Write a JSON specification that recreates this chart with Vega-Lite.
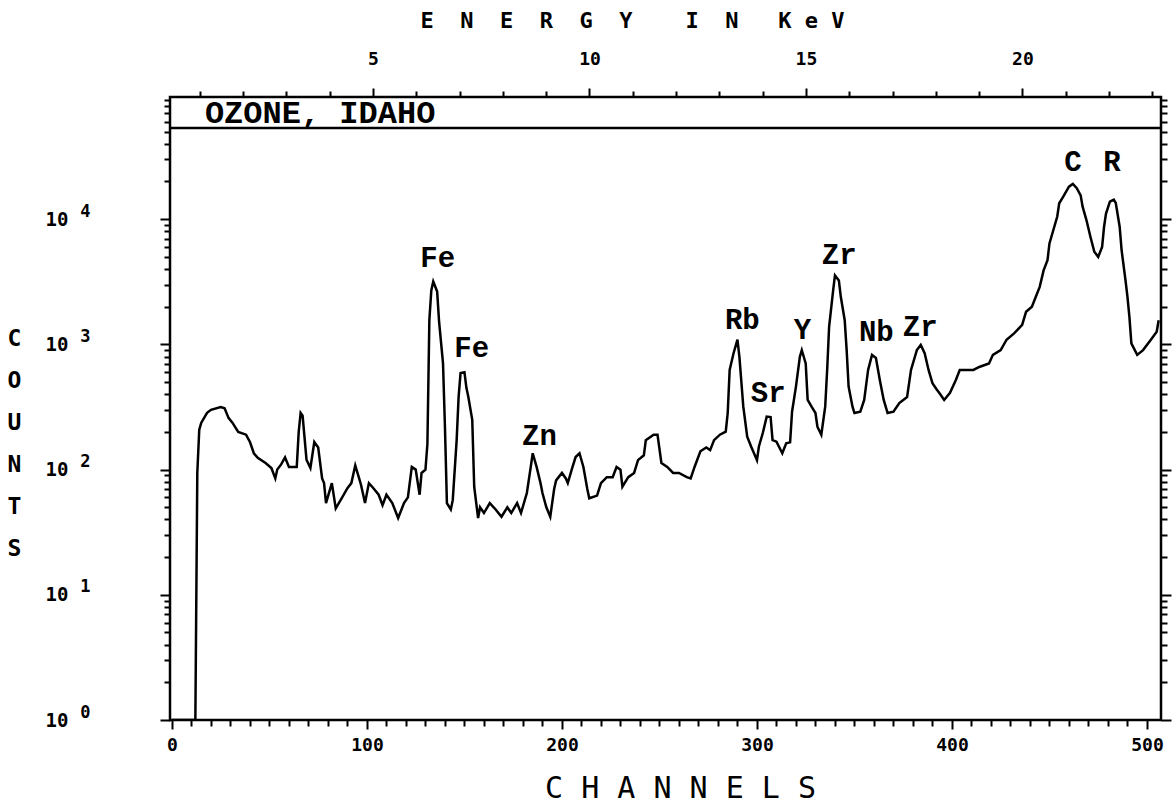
{
  "$schema": "https://vega.github.io/schema/vega-lite/v6.json",
  "width": 991,
  "height": 623,
  "autosize": {"type": "none"},
  "padding": {"left": 170, "top": 97, "right": 13, "bottom": 85},
  "background": "white",
  "config": {
    "view": {"stroke": "black", "strokeWidth": 2.5},
    "axis": {"domain": false, "grid": false, "tickColor": "black", "tickWidth": 2, "labelColor": "black", "titleColor": "black", "labelFont": "DejaVu Sans Mono", "labelFontWeight": "bold", "labelFontSize": 18, "labelOverlap": false, "labelFlush": false}
  },
  "datasets": {
    "spectrum": [
      {"ch":0,"n":1},{"ch":12,"n":1},{"ch":13,"n":94},{"ch":14,"n":208},{"ch":15,"n":236},{"ch":18,"n":284},{"ch":20,"n":300},{"ch":25,"n":316},{"ch":27,"n":309},{"ch":29,"n":259},{"ch":31,"n":237},{"ch":34,"n":200},{"ch":38,"n":190},{"ch":40,"n":166},{"ch":42,"n":135},{"ch":44,"n":124},{"ch":48,"n":113},{"ch":51,"n":103},{"ch":53,"n":85},{"ch":54,"n":100},{"ch":56,"n":110},{"ch":58,"n":125},{"ch":60,"n":105},{"ch":64,"n":105},{"ch":65,"n":200},{"ch":66,"n":284},{"ch":67,"n":270},{"ch":69,"n":120},{"ch":71,"n":103},{"ch":73,"n":166},{"ch":75,"n":150},{"ch":77,"n":85},{"ch":78,"n":78},{"ch":79,"n":54},{"ch":82,"n":78},{"ch":84,"n":49},{"ch":87,"n":59},{"ch":90,"n":71},{"ch":92,"n":78},{"ch":94,"n":108},{"ch":96,"n":85},{"ch":97,"n":75},{"ch":99,"n":54},{"ch":101,"n":78},{"ch":103,"n":72},{"ch":106,"n":63},{"ch":108,"n":52},{"ch":110,"n":63},{"ch":113,"n":54},{"ch":116,"n":41},{"ch":119,"n":54},{"ch":121,"n":60},{"ch":123,"n":105},{"ch":125,"n":100},{"ch":127,"n":63},{"ch":128,"n":94},{"ch":130,"n":100},{"ch":131,"n":160},{"ch":132,"n":1560},{"ch":133,"n":2700},{"ch":134,"n":3180},{"ch":135,"n":2900},{"ch":136,"n":2640},{"ch":137,"n":1510},{"ch":139,"n":710},{"ch":140,"n":219},{"ch":141,"n":54},{"ch":143,"n":48},{"ch":144,"n":57},{"ch":146,"n":172},{"ch":147,"n":380},{"ch":148,"n":590},{"ch":150,"n":600},{"ch":151,"n":450},{"ch":152,"n":380},{"ch":154,"n":250},{"ch":155,"n":73},{"ch":157,"n":41},{"ch":158,"n":50},{"ch":160,"n":45},{"ch":163,"n":54},{"ch":166,"n":48},{"ch":169,"n":42},{"ch":172,"n":50},{"ch":174,"n":45},{"ch":177,"n":54},{"ch":179,"n":45},{"ch":182,"n":65},{"ch":184,"n":105},{"ch":185,"n":135},{"ch":187,"n":105},{"ch":189,"n":78},{"ch":190,"n":65},{"ch":192,"n":50},{"ch":194,"n":42},{"ch":196,"n":70},{"ch":197,"n":82},{"ch":200,"n":94},{"ch":202,"n":85},{"ch":203,"n":78},{"ch":205,"n":100},{"ch":207,"n":126},{"ch":209,"n":135},{"ch":211,"n":105},{"ch":213,"n":70},{"ch":214,"n":59},{"ch":218,"n":62},{"ch":220,"n":78},{"ch":223,"n":87},{"ch":226,"n":87},{"ch":228,"n":105},{"ch":230,"n":100},{"ch":231,"n":73},{"ch":234,"n":87},{"ch":237,"n":94},{"ch":239,"n":119},{"ch":242,"n":130},{"ch":243,"n":172},{"ch":247,"n":190},{"ch":249,"n":190},{"ch":251,"n":113},{"ch":254,"n":105},{"ch":257,"n":94},{"ch":260,"n":94},{"ch":264,"n":87},{"ch":266,"n":85},{"ch":268,"n":105},{"ch":271,"n":140},{"ch":274,"n":150},{"ch":276,"n":143},{"ch":278,"n":172},{"ch":281,"n":190},{"ch":284,"n":201},{"ch":285,"n":283},{"ch":286,"n":625},{"ch":288,"n":850},{"ch":290,"n":1090},{"ch":291,"n":795},{"ch":293,"n":318},{"ch":295,"n":183},{"ch":297,"n":153},{"ch":300,"n":119},{"ch":301,"n":153},{"ch":303,"n":196},{"ch":305,"n":265},{"ch":307,"n":263},{"ch":308,"n":172},{"ch":310,"n":167},{"ch":313,"n":135},{"ch":315,"n":162},{"ch":317,"n":165},{"ch":318,"n":290},{"ch":320,"n":460},{"ch":322,"n":795},{"ch":323,"n":900},{"ch":325,"n":705},{"ch":326,"n":360},{"ch":328,"n":318},{"ch":330,"n":283},{"ch":331,"n":220},{"ch":333,"n":190},{"ch":335,"n":318},{"ch":336,"n":625},{"ch":337,"n":1380},{"ch":339,"n":2640},{"ch":340,"n":3560},{"ch":342,"n":3240},{"ch":343,"n":2400},{"ch":345,"n":1560},{"ch":346,"n":900},{"ch":347,"n":460},{"ch":349,"n":318},{"ch":350,"n":283},{"ch":353,"n":290},{"ch":355,"n":360},{"ch":357,"n":625},{"ch":359,"n":825},{"ch":361,"n":780},{"ch":363,"n":520},{"ch":365,"n":360},{"ch":367,"n":283},{"ch":370,"n":290},{"ch":373,"n":340},{"ch":377,"n":380},{"ch":379,"n":625},{"ch":382,"n":900},{"ch":384,"n":990},{"ch":386,"n":850},{"ch":388,"n":625},{"ch":390,"n":490},{"ch":392,"n":440},{"ch":394,"n":400},{"ch":396,"n":360},{"ch":399,"n":410},{"ch":402,"n":520},{"ch":404,"n":625},{"ch":408,"n":625},{"ch":411,"n":625},{"ch":414,"n":660},{"ch":419,"n":705},{"ch":421,"n":825},{"ch":425,"n":900},{"ch":428,"n":1090},{"ch":432,"n":1230},{"ch":436,"n":1430},{"ch":438,"n":1820},{"ch":441,"n":2000},{"ch":443,"n":2400},{"ch":445,"n":2880},{"ch":447,"n":3900},{"ch":449,"n":4700},{"ch":450,"n":6400},{"ch":452,"n":8200},{"ch":454,"n":10500},{"ch":455,"n":13400},{"ch":457,"n":15100},{"ch":460,"n":18200},{"ch":462,"n":19100},{"ch":464,"n":17700},{"ch":466,"n":15500},{"ch":467,"n":12600},{"ch":469,"n":9800},{"ch":471,"n":7250},{"ch":473,"n":5500},{"ch":475,"n":5000},{"ch":477,"n":6000},{"ch":478,"n":8700},{"ch":479,"n":11100},{"ch":481,"n":13800},{"ch":483,"n":14300},{"ch":484,"n":13500},{"ch":486,"n":8700},{"ch":487,"n":5650},{"ch":489,"n":3250},{"ch":490,"n":2400},{"ch":491,"n":1660},{"ch":492,"n":1020},{"ch":495,"n":825},{"ch":498,"n":900},{"ch":502,"n":1090},{"ch":505,"n":1260},{"ch":506,"n":1560}
    ],
    "peaks": [
      {"ch":136.3,"n":4900,"label":"Fe"},
      {"ch":153.7,"n":936,"label":"Fe"},
      {"ch":188.5,"n":185,"label":"Zn"},
      {"ch":292.5,"n":1570,"label":"Rb"},
      {"ch":305.8,"n":409,"label":"Sr"},
      {"ch":323.3,"n":1300,"label":"Y"},
      {"ch":342.2,"n":5176,"label":"Zr"},
      {"ch":361.2,"n":1255,"label":"Nb"},
      {"ch":383.7,"n":1380,"label":"Zr"},
      {"ch":462.1,"n":28600,"label":"C"},
      {"ch":482.1,"n":28600,"label":"R"}
    ],
    "boxline": [{"n":53500}],
    "boxtext": [{"ch":16.9,"n":70500,"label":"OZONE, IDAHO"}],
    "energy": [{"e":1},{"e":23}]
  },
  "layer": [
    {
      "layer": [
        {
          "data": {"name": "spectrum"},
          "mark": {"type": "line", "color": "black", "strokeWidth": 2.5, "interpolate": "linear", "clip": true},
          "encoding": {
            "x": {
              "field": "ch", "type": "quantitative",
              "scale": {"domain": [-1, 507.2], "nice": false, "zero": false},
              "axis": {
                "orient": "bottom",
                "values": [0, 100, 200, 300, 400, 500],
                "format": "d",
                "labelOverlap": false,
                "labelBound": false,
                "tickSize": 9,
                "labelPadding": 7,
                "title": "C H A N N E L S",
                "titleFont": "DejaVu Sans Mono",
                "titleFontSize": 30,
                "titleFontWeight": "normal",
                "titleX": 510,
                "titleY": 68,
                "titleAlign": "center",
                "titleBaseline": "middle",
                "titleAnchor": null
              }
            },
            "y": {
              "field": "n", "type": "quantitative",
              "scale": {"type": "log", "domain": [1, 94600], "nice": false},
              "axis": {
                "orient": "left",
                "values": [1,2,3,4,5,6,7,8,9,10,20,30,40,50,60,70,80,90,100,200,300,400,500,600,700,800,900,1000,2000,3000,4000,5000,6000,7000,8000,9000,10000,20000,30000,40000,50000,60000,70000,80000,90000],
                "labelOverlap": false,
                "labelExpr": "indexof([1,10,100,1000,10000], datum.value) >= 0 ? '10' : ''",
                "tickSize": {"condition": {"test": "indexof([1,10,100,1000,10000], datum.value) >= 0", "value": 10}, "value": 6},
                "labelPadding": 92,
                "labelFontSize": 19,
                "title": ["C", "O", "U", "N", "T", "S"],
                "titleFont": "DejaVu Sans Mono",
                "titleFontWeight": "bold",
                "titleFontSize": 23,
                "titleAngle": 0,
                "titleLineHeight": 42,
                "titleX": -156,
                "titleY": 230,
                "titleAlign": "center",
                "titleBaseline": "top",
                "titleAnchor": null
              }
            }
          }
        },
        {
          "data": {"name": "peaks"},
          "mark": {"type": "text", "font": "Liberation Mono", "fontWeight": "bold", "fontSize": 29, "color": "black", "align": "center", "baseline": "middle"},
          "encoding": {
            "x": {
              "field": "ch", "type": "quantitative",
              "axis": {
                "orient": "bottom",
                "values": [10,20,30,40,50,60,70,80,90,110,120,130,140,150,160,170,180,190,210,220,230,240,250,260,270,280,290,310,320,330,340,350,360,370,380,390,410,420,430,440,450,460,470,480,490],
                "labels": false,
                "tickSize": 6,
                "title": null
              }
            },
            "y": {
              "field": "n", "type": "quantitative",
              "axis": {
                "orient": "right",
                "values": [1,2,3,4,5,6,7,8,9,10,20,30,40,50,60,70,80,90,100,200,300,400,500,600,700,800,900,1000,2000,3000,4000,5000,6000,7000,8000,9000,10000,20000,30000,40000,50000,60000,70000,80000,90000],
                "labels": false,
                "tickSize": {"condition": {"test": "indexof([1,10,100,1000,10000], datum.value) >= 0", "value": 10}, "value": 6},
                "title": null
              }
            },
            "text": {"field": "label"}
          }
        },
        {
          "data": {"name": "boxline"},
          "mark": {"type": "rule", "color": "black", "strokeWidth": 2.5},
          "encoding": {
            "y": {
              "field": "n", "type": "quantitative",
              "axis": {
                "orient": "left",
                "values": [1, 10, 100, 1000, 10000],
                "labelOverlap": false,
                "ticks": false,
                "labelExpr": "datum.value == 1 ? '0' : datum.value == 10 ? '1' : datum.value == 100 ? '2' : datum.value == 1000 ? '3' : '4'",
                "labelPadding": 80,
                "labelOffset": -8,
                "labelFontSize": 17,
                "title": null
              }
            }
          }
        },
        {
          "data": {"name": "boxtext"},
          "mark": {"type": "text", "font": "Liberation Mono", "fontWeight": "bold", "fontSize": 32, "color": "black", "align": "left", "baseline": "middle"},
          "encoding": {
            "x": {"field": "ch", "type": "quantitative", "axis": null},
            "y": {"field": "n", "type": "quantitative", "axis": null},
            "text": {"field": "label"}
          }
        }
      ],
      "resolve": {"axis": {"x": "independent", "y": "independent"}}
    },
    {
      "data": {"name": "energy"},
      "mark": {"type": "rule", "opacity": 0},
      "encoding": {
        "x": {
          "field": "e", "type": "quantitative",
          "scale": {"domain": [0.312, 23.2], "nice": false, "zero": false},
          "axis": {
            "orient": "top",
            "values": [1,2,3,4,5,6,7,8,9,10,11,12,13,14,15,16,17,18,19,20,21,22,23],
            "labelOverlap": false,
            "labelExpr": "datum.value % 5 === 0 ? datum.label : ''",
            "tickSize": {"condition": {"test": "datum.value % 5 === 0", "value": 9}, "value": 6},
            "labelPadding": 20,
            "title": "E\u00a0\u00a0N\u00a0\u00a0E\u00a0\u00a0R\u00a0\u00a0G\u00a0\u00a0Y\u00a0\u00a0\u00a0\u00a0I\u00a0\u00a0N\u00a0\u00a0\u00a0K\u00a0e\u00a0V",
            "titleFont": "DejaVu Sans Mono",
            "titleFontWeight": "bold",
            "titleFontSize": 22,
            "titleX": 462,
            "titleY": -77,
            "titleAlign": "center",
            "titleBaseline": "middle",
            "titleAnchor": null
          }
        }
      }
    }
  ],
  "resolve": {"scale": {"x": "independent"}}
}
